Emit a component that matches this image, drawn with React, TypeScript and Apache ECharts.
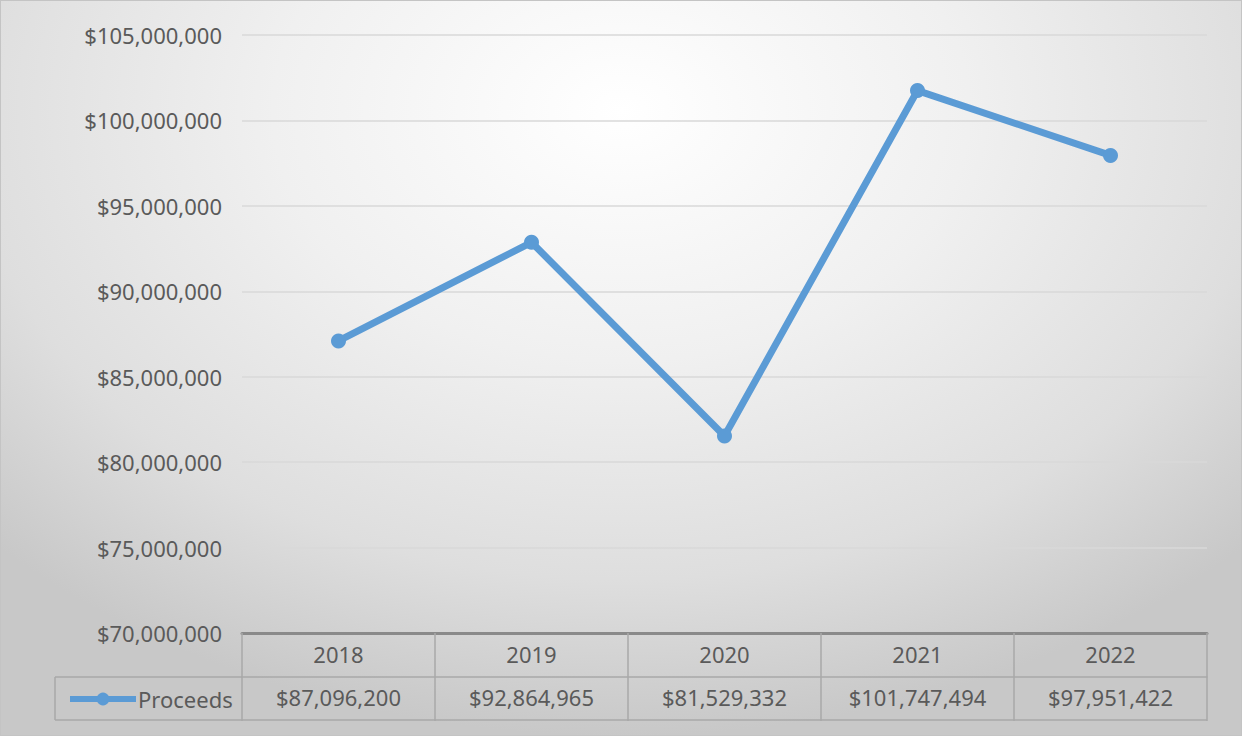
import React, { useEffect, useRef } from "react";
import * as echarts from "echarts";

const years = ["2018", "2019", "2020", "2021", "2022"];
const proceeds = [87096200, 92864965, 81529332, 101747494, 97951422];
const seriesName = "Proceeds";
const yMin = 70000000;
const yMax = 105000000;
const yStep = 5000000;

const fmt = (v: number) => "$" + Math.round(v).toLocaleString("en-US");

const FONT = "'Noto Sans', 'Open Sans', sans-serif";
const TXT = "#5a5a5a";
const BLUE = "#5b9bd5";
const FS = 22;

export default function App() {
  const ref = useRef<HTMLDivElement>(null);
  useEffect(() => {
    document.body.style.margin = "0";
    const chart = echarts.init(ref.current!, undefined, { renderer: "svg" });
    chart.setOption({
      animation: false,
      backgroundColor: "transparent",
      textStyle: { fontFamily: FONT },
      grid: { left: 242, right: 35, top: 35, bottom: 103, containLabel: false },
      legend: {
        data: [seriesName],
        left: 62,
        top: 683,
        itemWidth: 66,
        itemHeight: 16,
        itemGap: 4,
        lineStyle: { width: 6 },
        textStyle: { fontSize: FS, color: TXT, fontFamily: FONT, padding: [0, 0, 0, -3] },
      },
      xAxis: [
        {
          type: "category",
          data: years,
          position: "bottom",
          boundaryGap: true,
          axisLine: { show: true, lineStyle: { color: "#8a8a8a", width: 3 } },
          axisTick: { show: true, interval: 0, length: 88, lineStyle: { color: "#a8a8a8", width: 1.5 } },
          axisLabel: { fontSize: FS, color: TXT, margin: 10, fontFamily: FONT },
          splitLine: { show: false },
        },
        {
          type: "category",
          data: proceeds.map(fmt),
          position: "bottom",
          offset: 44,
          boundaryGap: true,
          axisLine: { show: true, lineStyle: { color: "#a8a8a8", width: 1.5 } },
          axisTick: { show: false },
          axisLabel: { fontSize: FS, color: TXT, margin: 9, fontFamily: FONT },
        },
      ],
      yAxis: {
        type: "value",
        min: yMin,
        max: yMax,
        interval: yStep,
        axisLine: { show: false },
        axisTick: { show: false },
        axisLabel: { fontSize: FS, color: TXT, margin: 20, fontFamily: FONT, formatter: (v: number) => fmt(v) },
        splitLine: { show: true, lineStyle: { color: "#d9d9d9", width: 1.5 } },
      },
      graphic: [
        { type: "line", shape: { x1: 55, y1: 677, x2: 242, y2: 677 }, style: { stroke: "#a8a8a8", lineWidth: 1.5 } },
        { type: "line", shape: { x1: 55, y1: 720, x2: 1207, y2: 720 }, style: { stroke: "#a8a8a8", lineWidth: 1.5 } },
        { type: "line", shape: { x1: 55, y1: 677, x2: 55, y2: 720 }, style: { stroke: "#a8a8a8", lineWidth: 1.5 } },
      ],
      series: [
        {
          name: seriesName,
          type: "line",
          xAxisIndex: 0,
          data: proceeds,
          symbol: "circle",
          symbolSize: 15,
          lineStyle: { color: BLUE, width: 7 },
          itemStyle: { color: BLUE },
        },
      ],
    });
    return () => chart.dispose();
  }, []);
  return (
    <div
      style={{
        position: "absolute",
        left: 0,
        top: 0,
        width: 1242,
        height: 736,
        background:
          "radial-gradient(ellipse 70% 85% at 50% 15%, #ffffff 0%, #f0f0f0 40%, #dedede 75%, #c8c8c8 100%)",
        boxShadow: "inset 0 0 0 1px #c4c4c4",
      }}
    >
      <div ref={ref} style={{ width: 1242, height: 736 }} />
    </div>
  );
}
